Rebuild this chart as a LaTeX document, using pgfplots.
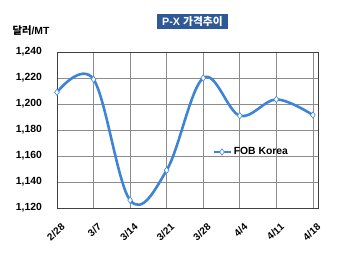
\documentclass[border=0pt]{standalone}
\usepackage{pgfplots}
\pgfplotsset{compat=1.18}
\usepackage{fontspec}
\setmainfont{Liberation Sans}
\newfontfamily\cjk{Noto Sans CJK KR}
\definecolor{linec}{RGB}{62,132,214}
\definecolor{titlebg}{RGB}{46,88,150}
\begin{document}
\begin{tikzpicture}[x=1bp,y=1bp]
\useasboundingbox (-57,-50) rectangle (293,208);
\begin{axis}[
  at={(0,0)}, anchor=south west,
  scale only axis, width=261bp, height=156bp,
  xmin=0, xmax=7.14, ymin=1120, ymax=1240,
  ytick={1120,1140,...,1240},
  xtick={0,...,7},
  xticklabels={2/28,3/7,3/14,3/21,3/28,4/4,4/11,4/18},
  xticklabel style={rotate=42, anchor=east, font=\bfseries\fontsize{10}{11}\selectfont, inner sep=0pt, xshift=-7bp, yshift=-17bp},
  yticklabel style={font=\bfseries\fontsize{10.4}{11}\selectfont, inner sep=0pt, xshift=-15bp},
  /pgf/number format/assume math mode=true,
  /pgf/number format/1000 sep={,},
  grid=major, major grid style={gray!90, line width=0.7pt},
  major tick length=0pt,
  axis line style={black!75, line width=1pt},
  legend style={at={(0.594,0.359)}, anchor=west, draw=none, fill=none, font=\bfseries\fontsize{10.4}{11}\selectfont, inner sep=0pt},
  legend cell align=left,
]
\addplot[linec, line width=2.6pt, smooth, tension=0.6, mark=diamond*, mark size=3.2pt, mark options={fill=white, draw=linec, line width=0.6pt}]
coordinates {(0,1209) (1,1219) (2,1126) (3,1149) (4,1220) (5,1191) (6,1203.5) (7,1191.5)};
\addlegendentry{FOB Korea}
\end{axis}
\node[fill=titlebg, text=white, font=\bfseries\fontsize{10.8}{12}\selectfont, minimum width=71bp, minimum height=15.6bp, inner sep=1bp] at (135.5,186.5) {P-X \cjk 가격추이};
\node[font=\bfseries\fontsize{10.4}{11}\selectfont] at (-26,177) {\cjk 달러\rmfamily\bfseries/MT};
\end{tikzpicture}
\end{document}
